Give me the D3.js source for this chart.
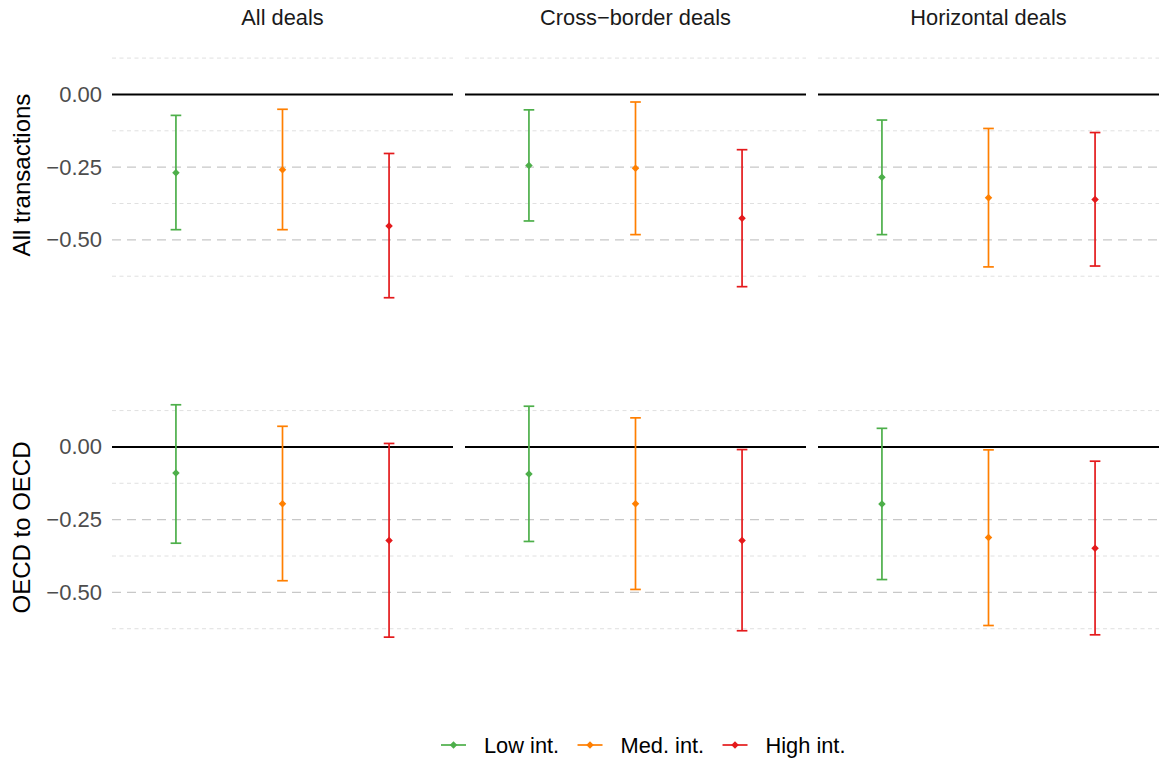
<!DOCTYPE html>
<html>
<head>
<meta charset="utf-8">
<script src="https://cdn.jsdelivr.net/npm/d3@7"></script>
<style>
  body { margin: 0; background: #fff; }
  svg { font-family: "Liberation Sans", Arial, sans-serif; }
</style>
</head>
<body>
<div id="chart"></div>
<script>
// facet rows / columns and the three groups
const samples = ["All transactions", "OECD to OECD"];
const dealTypes = ["All deals", "Cross\u2212border deals", "Horizontal deals"];
const groups = ["Low int.", "Med. int.", "High int."];
const groupColors = ["#4daf4a", "#ff7f00", "#e41a1c"];

// values[sample][dealType][group]
const estimate = [
    [[-0.269, -0.259, -0.452], [-0.244, -0.254, -0.426], [-0.285, -0.355, -0.361]],
    [[-0.090, -0.195, -0.322], [-0.093, -0.195, -0.322], [-0.196, -0.311, -0.348]]
];
const lower = [
    [[-0.465, -0.465, -0.699], [-0.435, -0.482, -0.661], [-0.482, -0.593, -0.590]],
    [[-0.331, -0.460, -0.654], [-0.325, -0.490, -0.632], [-0.456, -0.614, -0.646]]
];
const upper = [
    [[-0.072, -0.051, -0.203], [-0.053, -0.026, -0.190], [-0.088, -0.117, -0.131]],
    [[0.145, 0.071, 0.012], [0.140, 0.100, -0.009], [0.064, -0.010, -0.049]]
];

const yTicks = [-0.5, -0.25, 0];
const yMinor = [-0.625, -0.375, -0.125, 0.125];

const width = 1161, height = 758;
const panelLeft = 112, panelW = 341, panelGapX = 12;
const panelTops = [40, 392.5], panelH = 270;

const svg = d3.select("#chart").append("svg")
    .attr("width", width)
    .attr("height", height);

// shared y scale, ggplot style 5% expansion
const allVals = d3.merge([lower.flat(2), upper.flat(2)]);
const yMin = d3.min(allVals), yMax = d3.max(allVals);
const pad = (yMax - yMin) * 0.05;
const yScale = d3.scaleLinear()
    .domain([yMin - pad, yMax + pad])
    .range([panelH, 0]);

const xScale = d3.scalePoint()
    .domain(groups)
    .range([0, panelW])
    .padding(0.6);
const step = xScale.step();
const capW = step * 0.1;

// strip labels
dealTypes.forEach((d, j) => {
    svg.append("text")
        .attr("x", panelLeft + j * (panelW + panelGapX) + panelW / 2)
        .attr("y", 17)
        .attr("dy", "0.35em")
        .attr("text-anchor", "middle")
        .style("font-size", "21.8px")
        .style("fill", "#1a1a1a")
        .text(d);
});

samples.forEach((s, i) => {
    const top = panelTops[i];

    // y axis title
    svg.append("text")
        .attr("transform", "translate(22," + (top + panelH / 2) + ") rotate(-90)")
        .attr("dy", "0.35em")
        .attr("text-anchor", "middle")
        .style("font-size", "24px")
        .style("fill", "#000")
        .text(s);

    // y tick labels
    const yAxis = d3.axisLeft(yScale).tickValues(yTicks).tickSize(0).tickPadding(10)
        .tickFormat(d3.format(".2f"));
    const ax = svg.append("g")
        .attr("transform", "translate(" + panelLeft + "," + top + ")")
        .call(yAxis);
    ax.select(".domain").remove();
    ax.selectAll(".tick text")
        .style("font-size", "22px")
        .style("font-family", "Liberation Sans, Arial, sans-serif")
        .style("fill", "#4d4d4d");

    dealTypes.forEach((d, j) => {
        const g = svg.append("g")
            .attr("transform", "translate(" + (panelLeft + j * (panelW + panelGapX)) + "," + top + ")");

        g.selectAll(".minor").data(yMinor).join("line")
            .attr("x1", 0).attr("x2", panelW)
            .attr("y1", v => yScale(v)).attr("y2", v => yScale(v))
            .attr("stroke", "#dcdcdc").attr("stroke-width", 0.9)
            .attr("stroke-dasharray", "4,3.5");

        g.selectAll(".major").data(yTicks.filter(v => v !== 0)).join("line")
            .attr("x1", 0).attr("x2", panelW)
            .attr("y1", v => yScale(v)).attr("y2", v => yScale(v))
            .attr("stroke", "#c8c8c8").attr("stroke-width", 1.4)
            .attr("stroke-dasharray", "9,6");

        g.append("line")
            .attr("x1", 0).attr("x2", panelW)
            .attr("y1", yScale(0)).attr("y2", yScale(0))
            .attr("stroke", "#000").attr("stroke-width", 1.9);

        groups.forEach((grp, k) => {
            const x = xScale(grp);
            const col = groupColors[k];
            const lo = yScale(lower[i][j][k]), hi = yScale(upper[i][j][k]);
            g.append("line")
                .attr("x1", x).attr("x2", x).attr("y1", lo).attr("y2", hi)
                .attr("stroke", col).attr("stroke-width", 1.7);
            [lo, hi].forEach(yy => {
                g.append("line")
                    .attr("x1", x - capW / 2).attr("x2", x + capW / 2)
                    .attr("y1", yy).attr("y2", yy)
                    .attr("stroke", col).attr("stroke-width", 1.7);
            });
            g.append("path")
                .attr("d", d3.symbol(d3.symbolSquare, 28)())
                .attr("transform", "translate(" + x + "," + yScale(estimate[i][j][k]) + ") rotate(45)")
                .attr("fill", col);
        });
    });
});

// legend along the bottom
const legend = svg.append("g").attr("transform", "translate(441,745)");
let lx = 0;
groups.forEach((grp, k) => {
    const it = legend.append("g").attr("transform", "translate(" + lx + ",0)");
    it.append("line").attr("x1", 0).attr("x2", 25).attr("y1", 0).attr("y2", 0)
        .attr("stroke", groupColors[k]).attr("stroke-width", 1.7);
    it.append("path")
        .attr("d", d3.symbol(d3.symbolSquare, 28)())
        .attr("transform", "translate(12.5,0) rotate(45)")
        .attr("fill", groupColors[k]);
    const t = it.append("text")
        .attr("x", 43).attr("dy", "0.35em")
        .style("font-size", "21.8px")
        .style("fill", "#000")
        .text(grp);
    lx += 43 + t.node().getComputedTextLength() + 18.4;
});
</script>
</body>
</html>
